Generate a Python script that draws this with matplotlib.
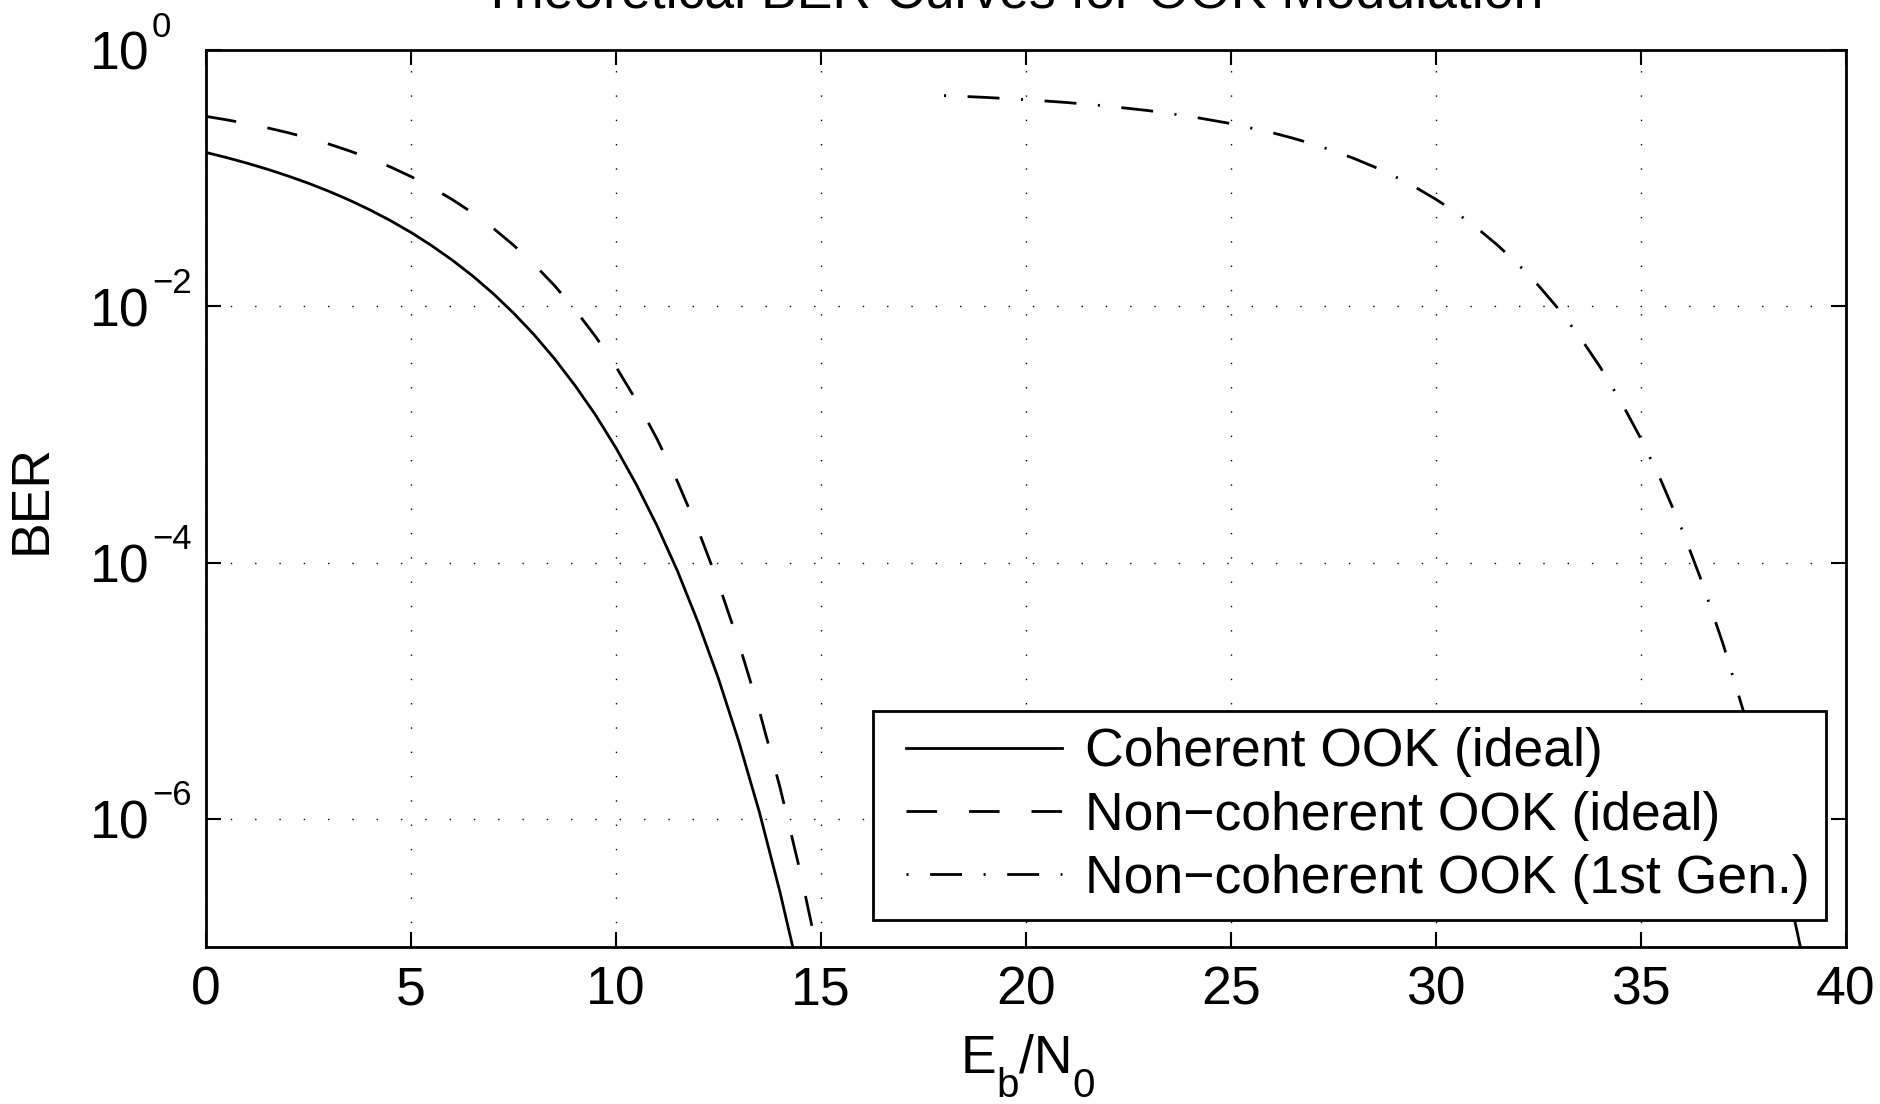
import numpy as np
import matplotlib
matplotlib.use('Agg')
import matplotlib.pyplot as plt
from matplotlib.ticker import FixedLocator, NullLocator
from matplotlib.legend_handler import HandlerLine2D
from matplotlib.lines import Line2D

FS = 38.5
plt.rcParams.update({
    'font.family': ['Liberation Sans', 'DejaVu Sans'],
    'font.size': FS,
    'lines.scale_dashes': False,
})

# ── data (Eb/N0 in dB, BER) ────────────────────────────────────────────────
snr_ideal = [0, 0.5, 1, 1.5, 2, 2.5, 3, 3.5, 4, 4.5, 5, 5.5, 6, 6.5, 7, 7.5,
             8, 8.5, 9, 9.5, 10, 10.5, 11, 11.5, 12, 12.5, 13, 13.5, 14,
             14.5, 15]
ber_coherent = [0.1587, 0.1448, 0.1309, 0.1173, 0.1040, 0.0912, 0.0789,
                0.0673, 0.0565, 0.0466, 0.0377, 0.0298, 0.0230, 0.0173,
                0.0126, 0.00886, 0.00601, 0.0039, 0.00241, 0.00142,
                7.83e-4, 4.04e-4, 1.94e-4, 8.59e-5, 3.43e-5, 1.24e-5,
                3.97e-6, 1.12e-6, 2.68e-7, 5.51e-8, 9.35e-9]
ber_noncoherent = [0.3033, 0.2853, 0.2664, 0.2468, 0.2264, 0.2055, 0.1844,
                   0.1632, 0.1424, 0.1222, 0.1029, 0.0848, 0.0683, 0.0536,
                   0.0408, 0.0300, 0.0213, 0.01451, 0.00943, 0.00581,
                   3.37e-3, 1.83e-3, 9.23e-4, 4.28e-4, 1.81e-4, 6.87e-5,
                   2.32e-5, 6.9e-6, 1.76e-6, 3.79e-7, 6.8e-8]

snr_gen1 = [18, 19, 20, 21, 22, 23, 24, 25, 26, 26.5, 27, 27.5, 28, 28.5,
            29, 29.5, 30, 30.5, 31, 31.5, 32, 32.5, 33, 33.5, 34, 34.5, 35,
            35.5, 36, 36.5, 37, 37.5, 38, 38.5, 39]
ber_gen1 = [0.441, 0.4269, 0.4097, 0.3892, 0.3647, 0.3361, 0.3033, 0.2664,
            0.2264, 0.2055, 0.1844, 0.1632, 0.1424, 0.1222, 0.1029, 0.0848,
            0.0683, 0.0536, 0.0408, 0.0300, 0.0213, 0.01451, 0.00943,
            0.00581, 3.37e-3, 1.83e-3, 9.23e-4, 4.28e-4, 1.81e-4, 6.87e-5,
            2.32e-5, 6.9e-6, 1.76e-6, 3.79e-7, 6.8e-8]

labels = ['Coherent OOK (ideal)',
          'Non\u2212coherent OOK (ideal)',
          'Non\u2212coherent OOK (1st Gen.)']

x_ticks = [0, 5, 10, 15, 20, 25, 30, 35, 40]
y_ticks = [1e0, 1e-2, 1e-4, 1e-6]
y_exponents = ['0', '\u22122', '\u22124', '\u22126']

# ── figure ─────────────────────────────────────────────────────────────────
fig = plt.figure(figsize=(18.81, 11.04), dpi=100)
ax = fig.add_axes([206 / 1881, 1 - 947 / 1104, 1640 / 1881, 897 / 1104])

lw = 2.0
ax.plot(snr_ideal, ber_coherent, color='k', lw=lw, label=labels[0])
ax.plot(snr_ideal, ber_noncoherent, color='k', lw=lw,
        linestyle=(0, (22, 23)), label=labels[1])
ax.plot(snr_gen1, ber_gen1, color='k', lw=lw,
        linestyle=(38.5, (23, 15.5, 1.5, 15.5)), label=labels[2])

ax.set_yscale('log')
ax.set_xlim(0, 40)
ax.set_ylim(1e-7, 1)
ax.xaxis.set_major_locator(FixedLocator(x_ticks))
ax.yaxis.set_major_locator(FixedLocator(y_ticks))
ax.yaxis.set_minor_locator(NullLocator())

ax.grid(True, which='major', color='k', lw=1.0, linestyle=(0, (1, 16.5)))
ax.tick_params(direction='in', length=11, width=1.5, top=True, right=True,
               labelsize=FS)
ax.tick_params(axis='y', labelleft=False)
ax.tick_params(axis='x', pad=13)
for s in ax.spines.values():
    s.set_linewidth(2.0)

# y tick labels: "10" with a raised exponent (MATLAB style)
ytf = ax.get_yaxis_transform()
for v, e in zip(y_ticks, y_exponents):
    ax.annotate('10', xy=(0, v), xycoords=ytf, xytext=(-41, -14.4),
                textcoords='offset points', ha='right', va='baseline',
                fontsize=FS, annotation_clip=False)
    ax.annotate(e, xy=(0, v), xycoords=ytf, xytext=(-39, 9.7),
                textcoords='offset points', ha='left', va='baseline',
                fontsize=25, annotation_clip=False)

# title (partly cut off at the top, as in the reference)
fig.text(1012 / 1881, 1 - 8 / 1104,
         'Theoretical BER Curves for OOK Modulation',
         ha='center', va='baseline', fontsize=FS)

# x label E_b/N_0 with large, lowered subscripts
t_e = ax.text((961 - 206) / 1640, (947 - 1073) / 897, 'E',
              transform=ax.transAxes, ha='left', va='baseline', fontsize=FS)
t_b = ax.annotate('b', xy=(1, 0), xycoords=t_e, xytext=(0, -9.5),
                  textcoords='offset points', ha='left', va='baseline',
                  fontsize=29)
t_n = ax.annotate('/N', xy=(1, 0), xycoords=t_b, xytext=(0, 23.5),
                  textcoords='offset points', ha='left', va='baseline',
                  fontsize=FS)
ax.annotate('0', xy=(1, 0), xycoords=t_n, xytext=(0, -9.5),
            textcoords='offset points', ha='left', va='baseline',
            fontsize=29)

ax.set_ylabel('BER', fontsize=FS)
ax.yaxis.set_label_coords(-0.091, 0.5)

leg = ax.legend(loc='lower right', bbox_to_anchor=(0.9878, 0.030),
                borderaxespad=0, fancybox=False, framealpha=1,
                edgecolor='k', handlelength=3.24, handletextpad=0.43,
                labelspacing=0.25, borderpad=0.3, fontsize=FS,
                handler_map={Line2D: HandlerLine2D(xpad=0.32)})
leg.get_frame().set_linewidth(2.0)

fig.savefig('out.png', dpi=100)
